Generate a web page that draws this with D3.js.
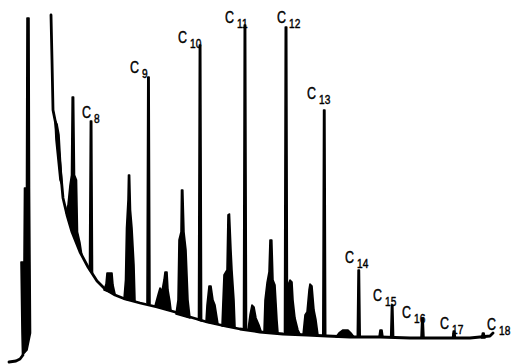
<!DOCTYPE html>
<html>
<head>
<meta charset="utf-8">
<script src="https://cdn.jsdelivr.net/npm/d3@7"></script>
<style>
  body { margin: 0; background: #fff; }
  svg { display: block; }
  .trace { fill: none; stroke: #000; stroke-width: 2.8; stroke-linejoin: round; stroke-linecap: round; }
  .peak { fill: #000; stroke: #000; stroke-width: 1.6; stroke-linejoin: round; }
  .lbl { font-family: 'Liberation Sans', Arial, sans-serif; fill: #000; stroke: #000; stroke-width: 0.45; }
</style>
</head>
<body>
<svg id="chart" width="512" height="364"></svg>
<script>
// retention time (min), detector signal (mV)

// start of the trace before the solvent front
const leadIn = [[0.9, 2], [1.6, 3], [2.0, 5], [2.3, 9]];

// solvent peak (goes off scale)
const solventPeak = [[2.25, 9], [2.2, 31], [2.1, 102], [2.4, 102], [2.45, 176], [2.65, 176],
  [2.7, 346], [2.9, 346], [2.95, 176], [3.0, 102], [3.05, 31], [2.7, 14]];

// drifting baseline after the solvent tail
const baseline = [[5.1, 349], [5.2, 304], [5.3, 254], [5.6, 239], [6.0, 199], [6.3, 166], [6.7, 149],
  [7.2, 132], [8.0, 112], [8.8, 97], [9.7, 83], [10.5, 75], [11.5, 69], [12.5, 65], [14.0, 61],
  [15.7, 57], [17.5, 52], [19.0, 47], [20.7, 42], [22.5, 38], [24.0, 35], [26.0, 32], [28.3, 30],
  [30.7, 29], [32.7, 28], [35.0, 27], [38.0, 27], [41.0, 26], [44.0, 26], [47.0, 26], [49.0, 28],
  [49.3, 31]];

// peak outlines on top of the baseline
const peaks = [
  [[5.5, 244], [5.7, 240], [5.9, 229], [6.1, 194], [6.2, 179], [6.0, 184], [5.8, 204], [5.6, 224]],
  [[6.6, 152], [6.8, 159], [7.0, 179], [7.15, 189], [7.22, 267], [7.36, 267], [7.45, 189], [7.65, 184], [7.75, 132], [8.0, 121], [8.2, 108]],
  [[8.95, 94], [9.04, 243], [9.17, 243], [9.25, 91]],
  [[10.4, 74], [10.6, 80], [10.7, 91], [11.2, 91], [11.3, 79], [11.5, 70]],
  [[12.4, 65], [12.55, 84], [12.65, 136], [12.8, 164], [12.85, 189], [12.96, 189], [13.05, 154], [13.2, 136], [13.4, 99], [13.5, 63]],
  [[14.7, 61], [14.78, 287], [14.91, 287], [15.0, 60]],
  [[15.5, 58], [15.8, 69], [16.0, 76], [16.2, 73], [16.4, 84], [16.5, 92], [16.7, 92], [16.8, 74], [17.0, 62], [17.1, 54]],
  [[17.6, 50], [17.8, 64], [17.9, 124], [18.1, 132], [18.15, 174], [18.28, 174], [18.4, 132], [18.6, 114], [18.8, 64], [19.0, 46]],
  [[19.85, 44], [19.94, 319], [20.07, 319], [20.16, 43]],
  [[20.6, 42], [20.7, 59], [20.9, 78], [21.1, 78], [21.3, 64], [21.5, 59], [21.8, 40]],
  [[22.2, 38], [22.3, 64], [22.4, 89], [22.7, 94], [22.8, 149], [22.95, 150], [23.1, 114], [23.2, 94], [23.4, 64], [23.5, 37]],
  [[24.35, 35], [24.43, 339], [24.56, 339], [24.65, 35]],
  [[24.8, 34], [25.0, 49], [25.2, 59], [25.4, 57], [25.6, 46], [25.9, 39], [26.1, 33]],
  [[26.4, 32], [26.5, 64], [26.7, 81], [26.9, 92], [27.0, 124], [27.18, 124], [27.3, 84], [27.5, 79], [27.7, 44], [27.8, 31]],
  [[28.45, 30], [28.53, 337], [28.67, 337], [28.75, 30]],
  [[28.7, 30], [28.8, 79], [29.0, 84], [29.2, 82], [29.3, 64], [29.5, 46], [29.8, 34], [30.0, 30]],
  [[30.3, 29], [30.5, 49], [30.7, 52], [30.9, 74], [31.0, 80], [31.2, 78], [31.4, 54], [31.6, 44], [31.8, 29]],
  [[32.28, 28], [32.36, 254], [32.49, 254], [32.57, 28]],
  [[33.6, 27], [33.9, 31], [34.3, 34], [34.8, 34], [35.1, 31], [35.4, 27]],
  [[35.73, 27], [35.81, 94], [35.94, 94], [36.02, 27]],
  [[37.9, 27], [38.0, 34], [38.2, 34], [38.3, 27]],
  [[39.07, 27], [39.15, 59], [39.28, 59], [39.36, 27]],
  [[42.1, 26], [42.18, 46], [42.31, 46], [42.4, 26]],
  [[45.25, 26], [45.33, 33], [45.47, 33], [45.55, 26]],
  [[48.15, 26], [48.25, 31], [48.4, 31], [48.5, 26]]
];

// n-alkane labels and where they were written on the chart
const carbonNumbers = ['8', '9', '10', '11', '12', '13', '14', '15', '16', '17', '18'];
const labelTime = [8.2, 13.0, 17.8, 22.5, 27.7, 30.7, 34.5, 37.3, 40.2, 44.0, 48.7];
const labelSignal = [246, 291, 321, 341, 341, 265, 101, 63, 46, 35, 34];

const svg = d3.select('#chart');
const x = d3.scaleLinear().domain([0, 51.2]).range([0, 512]);
const y = d3.scaleLinear().domain([0, 364]).range([364, 0]);

const line = d3.line()
  .x(d => x(d[0]))
  .y(d => y(d[1]));

// peaks first, filled black
svg.selectAll('path.peak')
  .data([solventPeak].concat(peaks))
  .enter().append('path')
  .attr('class', 'peak')
  .attr('d', d => line(d) + 'Z');

// baseline pieces
svg.selectAll('path.trace')
  .data([leadIn, baseline])
  .enter().append('path')
  .attr('class', 'trace')
  .attr('d', line);

// labels C8 ... C18, hand lettering is narrow so squeeze horizontally
const lbl = svg.selectAll('text.lbl')
  .data(carbonNumbers)
  .enter().append('text')
  .attr('class', 'lbl')
  .attr('transform', (d, i) => `translate(${x(labelTime[i])},${y(labelSignal[i])}) scale(0.78,1)`);

lbl.append('tspan')
  .style('font-size', '16px')
  .text('C');
lbl.append('tspan')
  .attr('dx', 4)
  .attr('dy', 5)
  .style('font-size', '13px')
  .text(d => d);
</script>
</body>
</html>
